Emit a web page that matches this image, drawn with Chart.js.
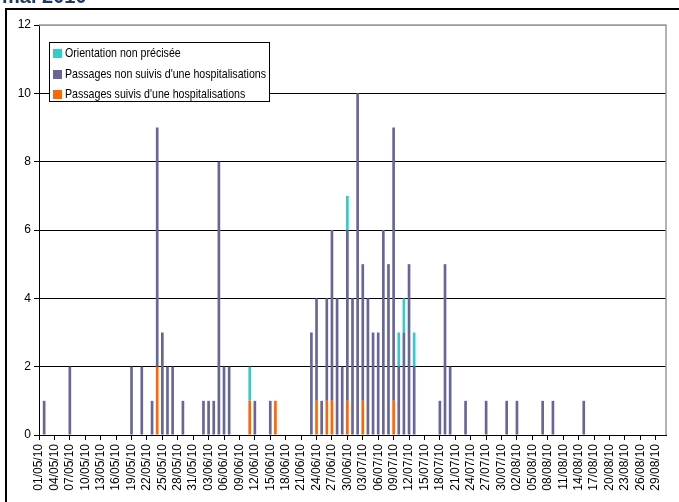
<!DOCTYPE html>
<html>
<head>
<meta charset="utf-8">
<script src="https://cdn.jsdelivr.net/npm/chart.js@4.4.0/dist/chart.umd.min.js"></script>
<style>
html, body { margin: 0; padding: 0; background: #fff; overflow: hidden }
#zone { position: relative; width: 679px; height: 502px; overflow: hidden }
#titre { position: absolute; left: 2px; top: -14px; font: bold 20px "Liberation Sans", Arial, sans-serif; line-height: 20px; color: #1f3864; white-space: nowrap }
#cadre { position: absolute; left: 5px; top: 8px; width: 720px; height: 600px; border: 2px solid #000; pointer-events: none }
canvas { position: absolute; left: 0; top: 0 }
#legende { position: absolute; left: 49px; top: 42px; width: 219px; height: 58px; border: 1px solid #000; background: #fff; font: 13px "Liberation Sans", Arial, sans-serif; color: #000 }
.ligne { position: absolute; left: 3px; height: 14px; line-height: 14px; white-space: nowrap }
.carre { display: inline-block; width: 9px; height: 9px; margin-right: 3px; vertical-align: -1px }
.texte { display: inline-block; transform: scaleX(0.817); transform-origin: left center }
</style>
</head>
<body>
<div id="zone">
  <canvas id="grafica" width="679" height="502"></canvas>
  <div id="titre">mai 2010</div>
  <div id="cadre"></div>
  <div id="legende"></div>
</div>
<script>
// jours du 01/05/10 au 31/08/10
const mois = [["05", 31], ["06", 30], ["07", 31], ["08", 31]]
let jours = []
for (let m of mois) {
  for (let d = 1; d <= m[1]; d++) {
    jours.push(String(d).padStart(2, "0") + "/" + m[0] + "/10")
  }
}

// passages suivis d'une hospitalisation
const hospit = [
  0,0,0,0,0,0,0,0,0,0, 0,0,0,0,0,0,0,0,0,0, 0,0,0,2,0,0,0,0,0,0, 0,
  0,0,0,0,0,0,0,0,0,0, 1,0,0,0,0,1,0,0,0,0, 0,0,0,1,0,1,1,0,0,1,
  0,0,1,0,0,0,0,0,1,0, 0,0,0,0,0,0,0,0,0,0, 0,0,0,0,0,0,0,0,0,0, 0,
  0,0,0,0,0,0,0,0,0,0, 0,0,0,0,0,0,0,0,0,0, 0,0,0,0,0,0,0,0,0,0, 0
]

// passages non suivis d'une hospitalisation
const nonHospit = [
  0,1,0,0,0,0,2,0,0,0, 0,0,0,0,0,0,0,0,2,0, 2,0,1,7,3,2,2,0,1,0, 0,
  0,1,1,1,8,2,2,0,0,0, 0,1,0,0,1,0,0,0,0,0, 0,0,3,3,1,3,5,4,2,5,
  4,10,4,4,3,3,6,5,8,2, 3,5,2,0,0,0,0,1,5,2, 0,0,1,0,0,0,1,0,0,0, 1,
  0,1,0,0,0,0,1,0,1,0, 0,0,0,0,1,0,0,0,0,0, 0,0,0,0,0,0,0,0,0,0, 0
]

// orientation non precisee
const nonPrecise = [
  0,0,0,0,0,0,0,0,0,0, 0,0,0,0,0,0,0,0,0,0, 0,0,0,0,0,0,0,0,0,0, 0,
  0,0,0,0,0,0,0,0,0,0, 1,0,0,0,0,0,0,0,0,0, 0,0,0,0,0,0,0,0,0,1,
  0,0,0,0,0,0,0,0,0,1, 1,0,1,0,0,0,0,0,0,0, 0,0,0,0,0,0,0,0,0,0, 0,
  0,0,0,0,0,0,0,0,0,0, 0,0,0,0,0,0,0,0,0,0, 0,0,0,0,0,0,0,0,0,0, 0
]

const series = [
  { label: "Passages suivis d'une hospitalisations", data: hospit, color: "#ff6600" },
  { label: "Passages non suivis d'une hospitalisations", data: nonHospit, color: "#666699" },
  { label: "Orientation non précisée", data: nonPrecise, color: "#33cccc" }
]

const police = "'Liberation Sans', Arial, sans-serif"

// bordure grise du cadre de tracé
const bordure = {
  id: "bordure",
  afterDatasetsDraw(chart) {
    let a = chart.chartArea
    let c = chart.ctx
    c.save()
    c.strokeStyle = "#9a9a9a"
    c.lineWidth = 1.5
    c.beginPath()
    c.moveTo(a.left, a.top)
    c.lineTo(a.right, a.top)
    c.lineTo(a.right, a.bottom)
    c.stroke()
    c.restore()
  }
}

let ctx = document.getElementById("grafica").getContext("2d")
new Chart(ctx, {
  type: "bar",
  data: {
    labels: jours,
    datasets: series.map(s => ({
      label: s.label,
      data: s.data,
      backgroundColor: s.color,
      barPercentage: 0.52,
      categoryPercentage: 1
    }))
  },
  options: {
    responsive: false,
    animation: false,
    layout: { padding: { top: 25, right: 13, left: 0, bottom: 0 } },
    plugins: { legend: { display: false }, tooltip: { enabled: false } },
    scales: {
      x: {
        stacked: true,
        offset: false,
        afterFit: s => { s.height = 67 },
        grid: { display: true, drawOnChartArea: false, tickLength: 5, tickColor: "#000", offset: false },
        border: { color: "#000", width: 1 },
        ticks: {
          autoSkip: false,
          minRotation: 90,
          maxRotation: 90,
          padding: 4,
          color: "#000",
          font: { family: police, size: 12 },
          callback: (v, i) => i % 3 === 0 ? jours[i] : null
        }
      },
      y: {
        stacked: true,
        min: 0,
        max: 12,
        afterFit: s => { s.width = 39 },
        grid: { color: c => c.tick && c.tick.value === 12 ? "#9a9a9a" : "#000", tickLength: 5, tickColor: "#000" },
        border: { color: "#000", width: 1 },
        ticks: { stepSize: 2, padding: 3, color: "#000", font: { family: police, size: 12 } }
      }
    }
  },
  plugins: [bordure]
})

// légende dans l'ordre inverse de l'empilement
let leg = document.getElementById("legende")
let hauts = [3, 23.5, 43.5]
series.slice().reverse().forEach((s, i) => {
  let d = document.createElement("div")
  d.className = "ligne"
  d.style.top = hauts[i] + "px"
  d.innerHTML = '<span class="carre" style="background:' + s.color + '"></span><span class="texte">' + s.label + '</span>'
  leg.appendChild(d)
})
</script>
</body>
</html>
